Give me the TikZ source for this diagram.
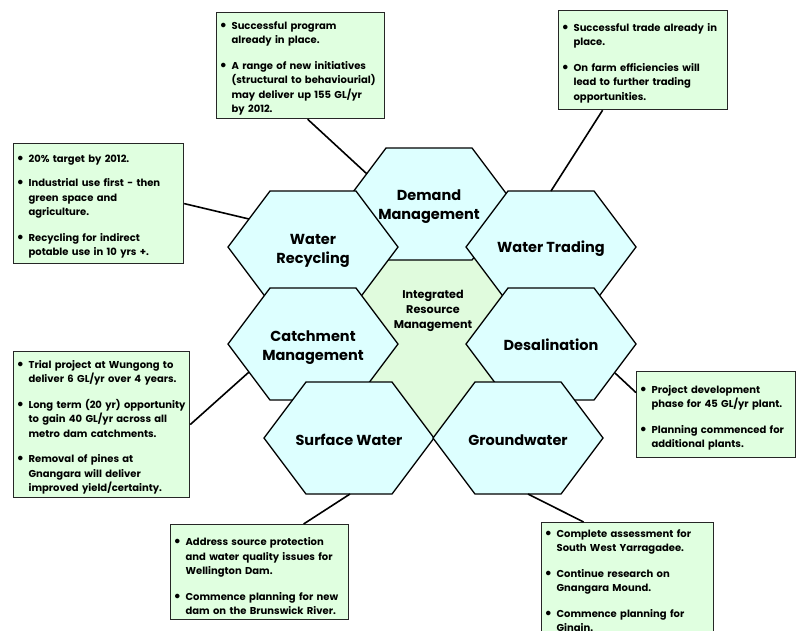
\documentclass[tikz,border=0pt]{standalone}
\usepackage{fontspec}
\setmainfont{Poppins}

\definecolor{hexblue}{RGB}{221,255,255}
\definecolor{hexgreen}{RGB}{224,251,221}
\definecolor{notegreen}{RGB}{224,255,224}

% one bullet point of a note, its lines split with \\
\newcommand{\noteitem}[1]{\noindent\makebox[12pt][l]{\raisebox{-1pt}{\scalebox{1.5}{\textbullet}}}%
  \begin{tabular}[t]{@{}l@{}}#1\end{tabular}\par}
\newcommand{\notegap}{\vspace{10pt}}

% flat topped hexagon round a centre
\newcommand{\hexcell}[2]{%
  \draw[hexline, fill=#1, shift={#2}] (-85,0) -- (-43,-56) -- (43,-56) -- (85,0) -- (43,56) -- (-43,56) -- cycle;}

\begin{document}
\begin{tikzpicture}[x=1pt, y=-1pt,
  hexline/.style={draw=black, line width=1.3pt},
  hexlabel/.style={align=center, font=\fontsize{14.5}{19}\selectfont\bfseries},
  note/.style={draw=black!85, line width=1.2pt, fill=notegreen, anchor=north west,
    inner xsep=3pt, inner ysep=0pt, align=left, font=\fontsize{10}{14.5}\selectfont\bfseries},
  pin/.style={line width=1.6pt}]

\useasboundingbox (0,0) rectangle (798,630);
\clip (0,0) rectangle (798,630);

% Hexagons, back to front
\draw[hexline, fill=hexgreen] (370,255) -- (496,255) -- (536,346) -- (476,438) -- (390,438) -- (330,346) -- cycle;
\hexcell{hexblue}{(429,204)}
\hexcell{hexblue}{(313,247)}
\hexcell{hexblue}{(551,247)}
\hexcell{hexblue}{(313,344)}
\hexcell{hexblue}{(551,344)}
\hexcell{hexblue}{(349,438)}
\hexcell{hexblue}{(518,438)}

% Labels
\node (irm) [align=center, font=\fontsize{11.2}{15}\selectfont\bfseries] at (433,311) {Integrated\\Resource\\Management};
\node (demand) [hexlabel] at (429,207) {Demand\\Management};
\node (recycling) [hexlabel] at (313,251) {Water\\Recycling};
\node (trading) [hexlabel] at (551,249) {Water Trading};
\node (catchment) [hexlabel] at (313,348) {Catchment\\Management};
\node (desal) [hexlabel] at (551,345) {Desalination};
\node (surface) [hexlabel] at (349,440) {Surface Water};
\node (ground) [hexlabel] at (518,440) {Groundwater};

% Notes
\node (dmbox) [note, text width=162pt, text height=16.5pt, text depth=89.5pt] at (216,12) {%
\noteitem{Successful program\\already in place.}\notegap
\noteitem{A range of new initiatives\\(structural to behaviourial)\\may deliver up 155 GL/yr\\by 2012.}};
\node (wtbox) [note, text width=163pt, text height=20.5pt, text depth=78.5pt] at (558,10) {%
\noteitem{Successful trade already in\\place.}\notegap
\noteitem{On farm efficiencies will\\lead to further trading\\opportunities.}};
\node (wrbox) [note, text width=164pt, text height=18.5pt, text depth=101.5pt] at (13,143) {%
\noteitem{20\% target by 2012.}\notegap
\noteitem{Industrial use first - then\\green space and\\agriculture.}\notegap
\noteitem{Recycling for indirect\\potable use in 10 yrs +.}};
\node (cmbox) [note, text width=170pt, text height=16.5pt, text depth=129.5pt] at (13,351) {%
\noteitem{Trial project at Wungong to\\deliver 6 GL/yr over 4 years.}\notegap
\noteitem{Long term (20 yr) opportunity\\to gain 40 GL/yr across all\\metro dam catchments.}\notegap
\noteitem{Removal of pines at\\Gnangara will deliver\\improved yield/certainty.}};
\node (dsbox) [note, text width=153pt, text height=21.5pt, text depth=64.5pt] at (636,371) {%
\noteitem{Project development\\phase for 45 GL/yr plant.}\notegap
\noteitem{Planning commenced for\\additional plants.}};
\node (swbox) [note, text width=172pt, text height=21pt, text depth=74pt] at (170,524) {%
\noteitem{Address source protection\\and water quality issues for\\Wellington Dam.}\notegap
\noteitem{Commence planning for new\\dam on the Brunswick River.}};
\node (gwbox) [note, text width=166pt, text height=14.5pt, text depth=114pt] at (541,522) {%
\noteitem{Complete assessment for\\South West Yarragadee.}\notegap
\noteitem{Continue research on\\Gnangara Mound.}\notegap
\noteitem{Commence planning for\\Gingin.}};

% Connectors
\coordinate (dmend) at (367,174);
\coordinate (wtend) at (551,191);
\coordinate (wrend) at (249,219);
\coordinate (cmend) at (249,372);
\coordinate (dsend) at (615,373);
\coordinate (swend) at (350,494);
\coordinate (gwend) at (528,494);

\draw[pin] ([xshift=7pt]dmbox.south) -- (dmend);
\draw[pin] ([xshift=-40.5pt]wtbox.south) -- (wtend);
\draw[pin] (wrbox.east) -- (wrend);
\draw[pin] (cmbox.east) -- (cmend);
\draw[pin] ([yshift=22pt]dsbox.west) -- (dsend);
\draw[pin] ([xshift=44pt]swbox.north) -- (swend);
\draw[pin] ([xshift=-44pt]gwbox.north) -- (gwend);

\end{tikzpicture}
\end{document}
